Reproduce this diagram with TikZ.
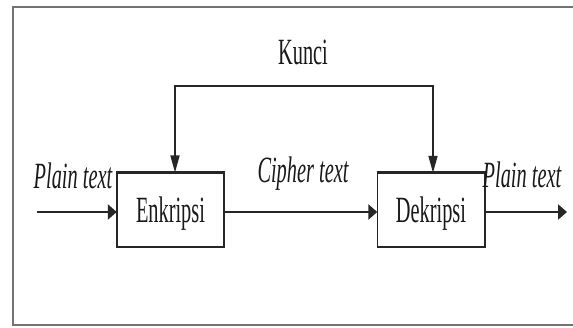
\documentclass[tikz,border=0pt]{standalone}
\usepackage{fontspec}
\setmainfont{Liberation Serif}
\usetikzlibrary{arrows.meta}
\newcommand{\sq}[1]{\scalebox{0.55}[1]{#1}}
\tikzset{
  blk/.style={minimum width=107pt, minimum height=74pt, inner sep=0pt},
  hl/.style={draw=black!85, line width=2.6pt},
  vl/.style={draw=black!85, line width=1.6pt},
  lbl/.style={inner sep=0pt, anchor=base, text=black!90, font=\fontsize{37}{40}\selectfont},
  harr/.style={hl, -{Triangle[length=9pt,width=15pt]}},
  varr/.style={{Triangle[length=17pt,width=9pt]}-{Triangle[length=17pt,width=9pt]}},
  frame/.style={draw=black!55, line width=2pt}
}
\begin{document}
\begin{tikzpicture}[x=1pt,y=-1pt]
\useasboundingbox (0,0) rectangle (573,328);
\fill[white] (0,0) rectangle (573,328);
\draw[frame] (590,7.5) -- (12.7,7.5) -- (12.7,325) -- (590,325);
\node[blk] (enc) at (170.5,209.7) {};
\node[blk] (dec) at (431,210) {};
\draw[hl] ([xshift=-0.8pt]enc.north west) -- ([xshift=0.8pt]enc.north east);
\draw[hl] ([xshift=-0.8pt]enc.south west) -- ([xshift=0.8pt]enc.south east);
\draw[vl] (enc.north west) -- (enc.south west);
\draw[vl] (enc.north east) -- (enc.south east);
\draw[hl] ([xshift=-0.8pt]dec.north west) -- ([xshift=0.8pt]dec.north east);
\draw[hl] ([xshift=-0.8pt]dec.south west) -- ([xshift=0.8pt]dec.south east);
\draw[vl] (dec.north west) -- (dec.south west);
\draw[vl] (dec.north east) -- (dec.south east);
\node[lbl] (enct) at (170.5,223) {\sq{Enkripsi}};
\node[lbl] (dect) at (431,223) {\sq{Dekripsi}};
\node[lbl] (kunci) at (303,65) {\sq{Kunci}};
\node[lbl] (pl1) at (73,189) {\sq{\itshape Plain text}};
\node[lbl] (ct) at (303,183) {\sq{\itshape Cipher text}};
\node[lbl] (pl2) at (522,188) {\sq{\itshape Plain text}};
\coordinate (in) at (37,212);
\coordinate (out) at (567,212);
\coordinate (kl) at (175,86);
\coordinate (kr) at (433,86);
\draw[harr] (in) -- (in -| enc.west);
\draw[harr] (enc.east |- in) -- (dec.west |- in);
\draw[harr] (dec.east |- out) -- (out);
\draw[vl, varr] (kl |- enc.north) -- (kl) -- (kr) -- (kr |- dec.north);
\draw[hl] ([xshift=-0.8pt]kl) -- ([xshift=0.8pt]kr);
\end{tikzpicture}
\end{document}
